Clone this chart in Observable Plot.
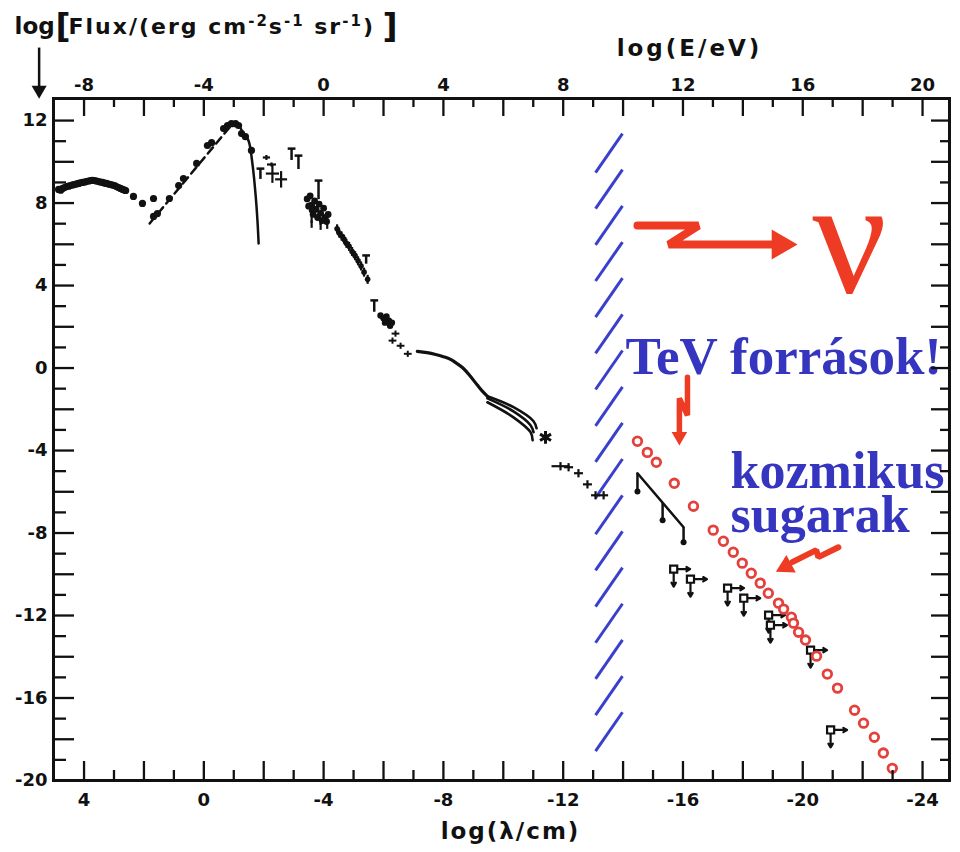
<!DOCTYPE html>
<html><head><meta charset="utf-8">
<script src="https://cdn.jsdelivr.net/npm/d3@7"></script>
<script src="https://cdn.jsdelivr.net/npm/@observablehq/plot@0.6"></script>
<style>html,body{margin:0;padding:0;background:#fff;}</style>
</head><body><div id="chart"></div>
<script>
// ---------------- data (x = log(λ/cm), y = log Flux) ----------------
const lambdaTicks = [4,3,2,1,0,-1,-2,-3,-4,-5,-6,-7,-8,-9,-10,-11,-12,-13,-14,-15,-16,-17,-18,-19,-20,-21,-22,-23,-24];
const lambdaLabels = [4,0,-4,-8,-12,-16,-20,-24];
const energyTicks = [-8,-7,-6,-5,-4,-3,-2,-1,0,1,2,3,4,5,6,7,8,9,10,11,12,13,14,15,16,17,18,19,20];
const energyLabels = [-8,-4,0,4,8,12,16,20];
const fluxTicks = [12,11,10,9,8,7,6,5,4,3,2,1,0,-1,-2,-3,-4,-5,-6,-7,-8,-9,-10,-11,-12,-13,-14,-15,-16,-17,-18,-19];
const fluxLabels = [12,8,4,0,-4,-8,-12,-16,-20];
const fluxTitleParts = [["Flux/(erg cm", false], ["-2", true], ["s", false], ["-1", true], [" sr", false], ["-1", true], [")", false]];
const energyTitle = "log(E/eV)";
const lambdaTitle = "log(λ/cm)";

const radioDots = [[4.85,8.66],[4.78,8.62],[4.72,8.71],[4.65,8.75],[4.58,8.80],[4.52,8.82],[4.45,8.85],[4.38,8.88],[4.32,8.90],[4.25,8.93],[4.18,8.95],[4.12,8.98],[4.05,9.00],[3.98,9.02],[3.92,9.04],[3.85,9.07],[3.78,9.09],[3.72,9.10],[3.65,9.09],[3.58,9.07],[3.52,9.04],[3.45,9.02],[3.38,9.00],[3.32,8.97],[3.25,8.95],[3.18,8.92],[3.12,8.90],[3.05,8.87],[2.98,8.85],[2.92,8.80],[2.85,8.75],[2.78,8.71],[2.71,8.66],[2.65,8.63],[2.61,8.61]];
const looseDots = [[2.35,8.32],[2.05,7.98],[1.68,8.22]];
const cmbDashed = [[1.81,7.01],[-0.99,11.90]];
const cmbDots = [[1.68,7.35],[1.55,7.49],[1.15,8.22],[0.84,8.85],[0.68,9.19],[0.24,9.92],[-0.12,10.79],[-0.26,10.93],[-0.66,11.61],[-0.79,11.76],[-0.92,11.85],[-1.06,11.85],[-1.16,11.76],[-1.26,11.37],[-1.39,11.22],[-1.59,10.55]];
const cmbFall = [[-1.16,11.81],[-1.33,11.37],[-1.49,11.03],[-1.63,9.82],[-1.73,8.37],[-1.79,7.16],[-1.83,6.04]];
const irBars = [[-2.09,10.21,0.12,0.12],[-2.26,9.87,0.15,0.10],[-2.29,9.43,0.22,0.45],[-2.58,9.15,0.20,0.40],[-3.60,7.10,0.04,0.30],[-3.90,7.00,0.04,0.30],[-4.12,7.05,0.04,0.30]];
const upperLimits = [[-1.89,9.67,0.50],[-2.93,10.64,0.55],[-3.16,10.30,0.65],[-3.83,9.09,0.90],[-5.42,5.46,0.40],[-5.69,3.28,0.55]];
const irCluster = [[-3.45,8.20],[-3.55,8.35],[-3.60,7.90],[-3.70,8.10],[-3.75,7.70],[-3.85,7.95],[-3.90,7.50],[-4.00,7.75],[-4.05,7.30],[-4.15,7.45],[-3.65,7.45],[-3.80,7.30],[-3.95,7.15],[-4.10,7.10],[-3.50,7.85],[-3.62,7.65]];
const optBars = [[-4.45,6.75],[-4.52,6.55],[-4.60,6.40],[-4.68,6.25],[-4.76,6.05],[-4.85,5.90],[-4.95,5.65],[-5.05,5.45],[-5.15,5.20],[-5.25,4.95],[-5.35,4.65],[-5.47,4.30]];
const uvCluster = [[-5.90,2.55],[-6.00,2.42],[-6.10,2.50],[-6.18,2.30],[-6.28,2.20],[-6.05,2.20],[-6.22,2.05]];
const euvCross = [[-6.40,1.67],[-6.30,1.33],[-6.57,1.08],[-6.81,0.69]];
const xrayMain = [[-7.13,0.81],[-7.45,0.75],[-7.74,0.66],[-8.00,0.55],[-8.24,0.42],[-8.45,0.22],[-8.67,-0.02],[-8.90,-0.40],[-9.14,-0.84],[-9.30,-1.12],[-9.47,-1.37]];
const xrayUpper = [[-9.47,-1.37],[-10.34,-1.90],[-11.01,-2.58],[-11.11,-2.92]];
const xrayMiddle = [[-9.47,-1.47],[-10.34,-2.10],[-10.91,-2.77],[-11.01,-3.11]];
const xrayLower = [[-9.47,-1.66],[-10.34,-2.39],[-10.91,-3.11],[-10.98,-3.50]];
const xrayStar = [[-11.41,-3.36]];
const gammaCross = [[-11.91,-4.76,0.30],[-12.18,-4.81,0.15],[-12.51,-5.10,0.15],[-12.81,-5.64,0.15],[-13.08,-6.17,0.15],[-13.35,-6.17,0.15]];
const gammaLine = [[-14.48,-5.10],[-16.02,-7.72]];
const gammaDrops = [[-14.48,-5.10,-5.99],[-15.32,-6.53,-7.38],[-16.02,-7.72,-8.45]];
const crLimits = [[-15.69,-9.75],[-16.25,-10.24],[-17.49,-10.67],[-18.03,-11.16],[-18.86,-11.98],[-18.92,-12.47],[-20.26,-13.68],[-20.93,-17.55]];
const cosmicRays = [[-14.48,-3.55],[-14.81,-4.09],[-15.11,-4.57],[-15.71,-5.59],[-16.35,-6.70],[-17.01,-7.86],[-17.35,-8.40],[-17.68,-8.93],[-17.98,-9.46],[-18.28,-9.95],[-18.58,-10.43],[-18.85,-10.92],[-19.19,-11.40],[-19.36,-11.69],[-19.62,-12.08],[-19.69,-12.37],[-19.86,-12.81],[-20.09,-13.19],[-20.46,-13.97],[-20.82,-14.84],[-21.16,-15.52],[-21.73,-16.59],[-22.03,-17.22],[-22.39,-17.90],[-22.69,-18.67],[-22.99,-19.41]];
const hatchTops = [11.37,9.62,7.86,6.11,4.36,2.60,0.85,-0.91,-2.66,-4.41,-6.17,-7.92,-9.68,-11.43,-13.18,-14.94,-16.69];
const zigzagNu = [[-14.48,6.91],[-16.52,6.91],[-15.52,5.99],[-18.99,5.99]];
const zigzagTeV = [[-16.15,-0.45],[-16.15,-2.29],[-15.88,-1.47],[-15.88,-3.12]];
const zigzagCR = [[-21.19,-8.69],[-20.52,-9.17],[-20.45,-8.83],[-19.65,-9.41]];

// ---------------- layout ----------------
const W = 960, H = 852, mL = 53, mR = 11, mT = 98, mB = 72;
const xDom = [5.02, -24.9], yDom = [-20, 13.07];
const ux = (xDom[0] - xDom[1]) / (W - mL - mR);
const uy = (yDom[1] - yDom[0]) / (H - mT - mB);
const K = "#111", RED = "#ee3b24", CRC = "#e4413d", BLUE = "#3535c0", HATCH = "#3a40cc";
const even = v => Math.abs(v) % 2 === 0;
const X = d => d[0], Y = d => d[1];
const lbl = {fontFamily: "DejaVu Sans", fontWeight: "bold", fill: K};
const fluxTitle = fluxTitleParts.map(p => p[0]).join("");

const chart = Plot.plot({
  width: W, height: H, marginLeft: mL, marginRight: mR, marginTop: mT, marginBottom: mB,
  x: {domain: xDom, axis: null},
  y: {domain: yDom, axis: null},
  style: {background: "white", overflow: "visible"},
  marks: [
    Plot.link(hatchTops, {x1: -13.08, y1: d => d - 1.89, x2: -13.98, y2: d => d, stroke: HATCH, strokeWidth: 3}),
    Plot.dot(radioDots, {x: X, y: Y, r: 3.6, fill: K}),
    Plot.dot(looseDots, {x: X, y: Y, r: 3.6, fill: K}),
    Plot.line(cmbDashed, {x: X, y: Y, stroke: K, strokeWidth: 2.5, strokeDasharray: "8,5"}),
    Plot.dot(cmbDots, {x: X, y: Y, r: 3.6, fill: K}),
    Plot.line(cmbFall, {x: X, y: Y, stroke: K, strokeWidth: 2.5, curve: "catmull-rom"}),
    Plot.link(irBars, {x1: d => d[0] - d[2], x2: d => d[0] + d[2], y1: Y, y2: Y, stroke: K, strokeWidth: 2.2}),
    Plot.link(irBars, {x1: X, x2: X, y1: d => d[1] - d[3], y2: d => d[1] + d[3], stroke: K, strokeWidth: 2.2}),
    Plot.link(upperLimits, {x1: d => d[0] - 0.13, x2: d => d[0] + 0.13, y1: Y, y2: Y, stroke: K, strokeWidth: 2.5}),
    Plot.link(upperLimits, {x1: X, x2: X, y1: Y, y2: d => d[1] - d[2], stroke: K, strokeWidth: 2.5}),
    Plot.dot(irCluster, {x: X, y: Y, r: 3.4, fill: K}),
    Plot.link(optBars, {x1: X, x2: X, y1: d => d[1] - 0.22, y2: d => d[1] + 0.22, stroke: K, strokeWidth: 2.2}),
    Plot.dot(optBars, {x: X, y: Y, r: 2.8, fill: K}),
    Plot.dot(uvCluster, {x: X, y: Y, r: 3.2, fill: K}),
    Plot.link(euvCross, {x1: d => d[0] - 0.13, x2: d => d[0] + 0.13, y1: Y, y2: Y, stroke: K, strokeWidth: 2}),
    Plot.link(euvCross, {x1: X, x2: X, y1: d => d[1] - 0.15, y2: d => d[1] + 0.15, stroke: K, strokeWidth: 2}),
    Plot.line(xrayMain, {x: X, y: Y, stroke: K, strokeWidth: 3.2, curve: "catmull-rom"}),
    Plot.line(xrayUpper, {x: X, y: Y, stroke: K, strokeWidth: 2.6, curve: "catmull-rom"}),
    Plot.line(xrayMiddle, {x: X, y: Y, stroke: K, strokeWidth: 2.6, curve: "catmull-rom"}),
    Plot.line(xrayLower, {x: X, y: Y, stroke: K, strokeWidth: 2.6, curve: "catmull-rom"}),
    Plot.dot(xrayStar, {x: X, y: Y, symbol: "asterisk", r: 6, stroke: K, strokeWidth: 3}),
    Plot.link(gammaCross, {x1: d => d[0] - d[2], x2: d => d[0] + d[2], y1: Y, y2: Y, stroke: K, strokeWidth: 2.2}),
    Plot.link(gammaCross, {x1: X, x2: X, y1: d => d[1] - 0.2, y2: d => d[1] + 0.2, stroke: K, strokeWidth: 2.2}),
    Plot.line(gammaLine, {x: X, y: Y, stroke: K, strokeWidth: 2.5}),
    Plot.link(gammaDrops, {x1: X, x2: X, y1: Y, y2: d => d[2], stroke: K, strokeWidth: 2.5}),
    Plot.dot(gammaDrops, {x: X, y: d => d[2], r: 3, fill: K}),
    Plot.arrow(crLimits, {x1: d => d[0] - 0.12, y1: Y, x2: d => d[0] - 0.55, y2: Y, stroke: K, strokeWidth: 2.2, headLength: 6}),
    Plot.arrow(crLimits, {x1: X, y1: d => d[1] - 0.2, x2: X, y2: d => d[1] - 0.85, stroke: K, strokeWidth: 2.2, headLength: 6}),
    Plot.dot(crLimits, {x: X, y: Y, symbol: "square", r: 4, stroke: K, strokeWidth: 2.2, fill: "white"}),
    Plot.dot(cosmicRays, {x: X, y: Y, r: 4.3, stroke: CRC, strokeWidth: 2.8, fill: "white"}),
    Plot.line(zigzagNu, {x: X, y: Y, stroke: RED, strokeWidth: 8, strokeLinejoin: "miter"}),
    Plot.dot([0], {x: -19.25, y: 5.99, symbol: "triangle", r: 11.1, rotate: 90, fill: RED}),
    Plot.line(zigzagTeV, {x: X, y: Y, stroke: RED, strokeWidth: 5.5, strokeLinejoin: "miter"}),
    Plot.dot([0], {x: -15.88, y: -3.32, symbol: "triangle", r: 5.8, rotate: 180, fill: RED}),
    Plot.line(zigzagCR, {x: X, y: Y, stroke: RED, strokeWidth: 6, strokeLinejoin: "miter"}),
    Plot.dot([0], {x: -19.44, y: -9.62, symbol: "triangle", r: 7.4, rotate: 242, fill: RED}),
    Plot.text(["ν"], {x: -21.56, y: 3.67, text: d => d, textAnchor: "middle", lineAnchor: "bottom", fontFamily: "Liberation Serif", fontSize: 165, fill: RED}),
    Plot.text(["TeV források!"], {x: -14.08, y: -0.31, text: d => d, textAnchor: "start", lineAnchor: "bottom", fontFamily: "Liberation Serif", fontWeight: "bold", fontSize: 53, fill: BLUE}),
    Plot.text(["kozmikus"], {x: -17.59, y: -5.80, text: d => d, textAnchor: "start", lineAnchor: "bottom", fontFamily: "Liberation Serif", fontWeight: "bold", fontSize: 52, fill: BLUE}),
    Plot.text(["sugarak"], {x: -17.59, y: -7.93, text: d => d, textAnchor: "start", lineAnchor: "bottom", fontFamily: "Liberation Serif", fontWeight: "bold", fontSize: 52, fill: BLUE}),
    Plot.frame({stroke: K, strokeWidth: 3}),
    Plot.ruleX(lambdaTicks, {x: d => d, y1: yDom[0], y2: d => yDom[0] + (even(d) ? 19 : 10) * uy, stroke: K, strokeWidth: 2.3}),
    Plot.ruleX(energyTicks, {x: e => -4 - e, y1: yDom[1], y2: e => yDom[1] - (even(e) ? 18 : 9) * uy, stroke: K, strokeWidth: 2.3}),
    Plot.ruleY(fluxTicks, {y: d => d, x1: xDom[0], x2: d => xDom[0] - (even(d) ? 21 : 13) * ux, stroke: K, strokeWidth: 2.3}),
    Plot.ruleY(fluxTicks, {y: d => d, x1: xDom[1], x2: d => xDom[1] + (even(d) ? 18 : 9) * ux, stroke: K, strokeWidth: 2.3}),
    Plot.text(lambdaLabels, {x: d => d, y: yDom[0], dy: 25, text: d => String(d), lineAnchor: "bottom", fontSize: 18, ...lbl}),
    Plot.text(energyLabels, {x: e => -4 - e, y: yDom[1], dy: -8, text: e => String(e), lineAnchor: "bottom", fontSize: 18, ...lbl}),
    Plot.text(fluxLabels, {x: xDom[0], y: d => d, dx: -6, text: d => String(d), textAnchor: "end", lineAnchor: "middle", fontSize: 18, ...lbl}),
    Plot.text(["log"], {frameAnchor: "top-left", dx: -39, dy: -65, text: d => d, textAnchor: "start", lineAnchor: "bottom", fontSize: 23, ...lbl}),
    Plot.text(["["], {frameAnchor: "top-left", dx: 2, dy: -61, text: d => d, textAnchor: "start", lineAnchor: "bottom", fontSize: 33, ...lbl}),
    Plot.text([fluxTitle], {frameAnchor: "top-left", dx: 15, dy: -65, text: d => d, textAnchor: "start", lineAnchor: "bottom", fontSize: 22, ...lbl}),
    Plot.text(["]"], {frameAnchor: "top-left", dx: 329, dy: -61, text: d => d, textAnchor: "start", lineAnchor: "bottom", fontSize: 33, ...lbl}),
    Plot.link([0], {x1: 5.5, x2: 5.5, y1: 15.54, y2: 13.55, stroke: K, strokeWidth: 2.5}),
    Plot.dot([0], {x: 5.5, y: 13.48, symbol: "triangle", r: 5.6, rotate: 180, fill: K}),
    Plot.text([energyTitle], {frameAnchor: "top-left", dx: 636, dy: -43, text: d => d, textAnchor: "middle", lineAnchor: "bottom", fontSize: 23, ...lbl}),
    Plot.text([lambdaTitle], {frameAnchor: "bottom-left", dx: 457, dy: 58, text: d => d, textAnchor: "middle", lineAnchor: "bottom", fontSize: 23, ...lbl})
  ]
});
for (const t of chart.querySelectorAll("text")) {
  const s = t.textContent;
  if (s === energyTitle) t.style.letterSpacing = "3px";
  else if (s === lambdaTitle) t.style.letterSpacing = "2px";
  else if (s === fluxTitle) {
    t.textContent = "";
    t.style.letterSpacing = "2px";
    let raised = false;
    for (const [part, sup] of fluxTitleParts) {
      const ts = document.createElementNS("http://www.w3.org/2000/svg", "tspan");
      ts.textContent = part;
      if (sup && !raised) { ts.setAttribute("dy", "-8"); raised = true; }
      else if (!sup && raised) { ts.setAttribute("dy", "8"); raised = false; }
      if (sup) ts.setAttribute("font-size", "15");
      t.appendChild(ts);
    }
  }
}
document.getElementById("chart").appendChild(chart);
</script>
</body></html>
